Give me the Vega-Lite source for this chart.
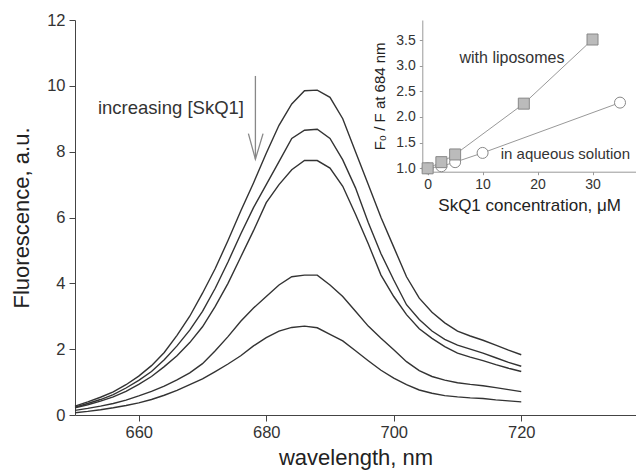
{
  "$schema": "https://vega.github.io/schema/vega-lite/v6.json",
  "width": 561,
  "height": 395,
  "autosize": "none",
  "padding": {"left": 75, "top": 20, "right": 0, "bottom": 59},
  "background": "white",
  "config": {
    "view": {"stroke": null},
    "font": "Liberation Sans",
    "axis": {"grid": false, "labelColor": "#333", "titleColor": "#222", "titleFontWeight": "normal", "labelFont": "Liberation Sans", "titleFont": "Liberation Sans"}
  },
  "datasets": {
    "spectra": [
      {"curve":1,"w":650,"v":0.27},{"curve":1,"w":652,"v":0.40},{"curve":1,"w":654,"v":0.54},{"curve":1,"w":656,"v":0.70},{"curve":1,"w":658,"v":0.92},{"curve":1,"w":660,"v":1.18},{"curve":1,"w":662,"v":1.50},{"curve":1,"w":664,"v":1.90},{"curve":1,"w":666,"v":2.42},{"curve":1,"w":668,"v":3.0},{"curve":1,"w":670,"v":3.7},{"curve":1,"w":672,"v":4.45},{"curve":1,"w":674,"v":5.3},{"curve":1,"w":676,"v":6.2},{"curve":1,"w":678,"v":7.05},{"curve":1,"w":680,"v":7.95},{"curve":1,"w":682,"v":8.8},{"curve":1,"w":684,"v":9.45},{"curve":1,"w":686,"v":9.85},{"curve":1,"w":688,"v":9.87},{"curve":1,"w":690,"v":9.65},{"curve":1,"w":692,"v":9.0},{"curve":1,"w":694,"v":8.0},{"curve":1,"w":696,"v":7.0},{"curve":1,"w":698,"v":6.0},{"curve":1,"w":700,"v":5.1},{"curve":1,"w":702,"v":4.2},{"curve":1,"w":704,"v":3.55},{"curve":1,"w":706,"v":3.12},{"curve":1,"w":708,"v":2.8},{"curve":1,"w":710,"v":2.55},{"curve":1,"w":712,"v":2.4},{"curve":1,"w":714,"v":2.27},{"curve":1,"w":716,"v":2.12},{"curve":1,"w":718,"v":1.97},{"curve":1,"w":720,"v":1.83},
      {"curve":2,"w":650,"v":0.24},{"curve":2,"w":652,"v":0.35},{"curve":2,"w":654,"v":0.47},{"curve":2,"w":656,"v":0.62},{"curve":2,"w":658,"v":0.82},{"curve":2,"w":660,"v":1.05},{"curve":2,"w":662,"v":1.32},{"curve":2,"w":664,"v":1.68},{"curve":2,"w":666,"v":2.1},{"curve":2,"w":668,"v":2.58},{"curve":2,"w":670,"v":3.15},{"curve":2,"w":672,"v":3.85},{"curve":2,"w":674,"v":4.65},{"curve":2,"w":676,"v":5.5},{"curve":2,"w":678,"v":6.3},{"curve":2,"w":680,"v":7.0},{"curve":2,"w":682,"v":7.7},{"curve":2,"w":684,"v":8.4},{"curve":2,"w":686,"v":8.65},{"curve":2,"w":688,"v":8.68},{"curve":2,"w":690,"v":8.4},{"curve":2,"w":692,"v":7.75},{"curve":2,"w":694,"v":6.9},{"curve":2,"w":696,"v":5.85},{"curve":2,"w":698,"v":4.9},{"curve":2,"w":700,"v":4.1},{"curve":2,"w":702,"v":3.35},{"curve":2,"w":704,"v":2.9},{"curve":2,"w":706,"v":2.55},{"curve":2,"w":708,"v":2.3},{"curve":2,"w":710,"v":2.12},{"curve":2,"w":712,"v":2.0},{"curve":2,"w":714,"v":1.88},{"curve":2,"w":716,"v":1.74},{"curve":2,"w":718,"v":1.6},{"curve":2,"w":720,"v":1.48},
      {"curve":3,"w":650,"v":0.22},{"curve":3,"w":652,"v":0.31},{"curve":3,"w":654,"v":0.42},{"curve":3,"w":656,"v":0.55},{"curve":3,"w":658,"v":0.72},{"curve":3,"w":660,"v":0.93},{"curve":3,"w":662,"v":1.17},{"curve":3,"w":664,"v":1.47},{"curve":3,"w":666,"v":1.8},{"curve":3,"w":668,"v":2.2},{"curve":3,"w":670,"v":2.68},{"curve":3,"w":672,"v":3.3},{"curve":3,"w":674,"v":4.0},{"curve":3,"w":676,"v":4.8},{"curve":3,"w":678,"v":5.6},{"curve":3,"w":680,"v":6.45},{"curve":3,"w":682,"v":7.0},{"curve":3,"w":684,"v":7.45},{"curve":3,"w":686,"v":7.73},{"curve":3,"w":688,"v":7.73},{"curve":3,"w":690,"v":7.5},{"curve":3,"w":692,"v":6.95},{"curve":3,"w":694,"v":6.1},{"curve":3,"w":696,"v":5.2},{"curve":3,"w":698,"v":4.25},{"curve":3,"w":700,"v":3.6},{"curve":3,"w":702,"v":3.05},{"curve":3,"w":704,"v":2.62},{"curve":3,"w":706,"v":2.33},{"curve":3,"w":708,"v":2.08},{"curve":3,"w":710,"v":1.88},{"curve":3,"w":712,"v":1.76},{"curve":3,"w":714,"v":1.65},{"curve":3,"w":716,"v":1.53},{"curve":3,"w":718,"v":1.42},{"curve":3,"w":720,"v":1.32},
      {"curve":4,"w":650,"v":0.14},{"curve":4,"w":652,"v":0.2},{"curve":4,"w":654,"v":0.27},{"curve":4,"w":656,"v":0.35},{"curve":4,"w":658,"v":0.45},{"curve":4,"w":660,"v":0.58},{"curve":4,"w":662,"v":0.72},{"curve":4,"w":664,"v":0.88},{"curve":4,"w":666,"v":1.07},{"curve":4,"w":668,"v":1.28},{"curve":4,"w":670,"v":1.56},{"curve":4,"w":672,"v":1.95},{"curve":4,"w":674,"v":2.38},{"curve":4,"w":676,"v":2.85},{"curve":4,"w":678,"v":3.25},{"curve":4,"w":680,"v":3.6},{"curve":4,"w":682,"v":3.95},{"curve":4,"w":684,"v":4.2},{"curve":4,"w":686,"v":4.25},{"curve":4,"w":688,"v":4.25},{"curve":4,"w":690,"v":3.95},{"curve":4,"w":692,"v":3.6},{"curve":4,"w":694,"v":3.15},{"curve":4,"w":696,"v":2.7},{"curve":4,"w":698,"v":2.33},{"curve":4,"w":700,"v":1.98},{"curve":4,"w":702,"v":1.62},{"curve":4,"w":704,"v":1.35},{"curve":4,"w":706,"v":1.17},{"curve":4,"w":708,"v":1.06},{"curve":4,"w":710,"v":0.98},{"curve":4,"w":712,"v":0.93},{"curve":4,"w":714,"v":0.89},{"curve":4,"w":716,"v":0.83},{"curve":4,"w":718,"v":0.77},{"curve":4,"w":720,"v":0.71},
      {"curve":5,"w":650,"v":0.07},{"curve":5,"w":652,"v":0.11},{"curve":5,"w":654,"v":0.16},{"curve":5,"w":656,"v":0.22},{"curve":5,"w":658,"v":0.29},{"curve":5,"w":660,"v":0.37},{"curve":5,"w":662,"v":0.47},{"curve":5,"w":664,"v":0.6},{"curve":5,"w":666,"v":0.75},{"curve":5,"w":668,"v":0.92},{"curve":5,"w":670,"v":1.1},{"curve":5,"w":672,"v":1.32},{"curve":5,"w":674,"v":1.55},{"curve":5,"w":676,"v":1.8},{"curve":5,"w":678,"v":2.1},{"curve":5,"w":680,"v":2.35},{"curve":5,"w":682,"v":2.55},{"curve":5,"w":684,"v":2.66},{"curve":5,"w":686,"v":2.70},{"curve":5,"w":688,"v":2.65},{"curve":5,"w":690,"v":2.45},{"curve":5,"w":692,"v":2.25},{"curve":5,"w":694,"v":1.95},{"curve":5,"w":696,"v":1.65},{"curve":5,"w":698,"v":1.36},{"curve":5,"w":700,"v":1.12},{"curve":5,"w":702,"v":0.92},{"curve":5,"w":704,"v":0.76},{"curve":5,"w":706,"v":0.66},{"curve":5,"w":708,"v":0.59},{"curve":5,"w":710,"v":0.55},{"curve":5,"w":712,"v":0.52},{"curve":5,"w":714,"v":0.5},{"curve":5,"w":716,"v":0.46},{"curve":5,"w":718,"v":0.43},{"curve":5,"w":720,"v":0.40}
    ],
    "arrow": [
      {"seg":"shaft","o":0,"w":678.3,"v":10.3},
      {"seg":"shaft","o":1,"w":678.3,"v":7.77},
      {"seg":"head","o":0,"w":677.2,"v":8.55},
      {"seg":"head","o":1,"w":678.3,"v":7.77},
      {"seg":"head","o":2,"w":679.5,"v":8.55}
    ],
    "mainLabels": [
      {"w":653.6,"v":9.33,"label":"increasing [SkQ1]"}
    ],
    "quench": [
      {"series":"liposomes","c":0,"r":1.0},
      {"series":"liposomes","c":2.5,"r":1.12},
      {"series":"liposomes","c":5,"r":1.27},
      {"series":"liposomes","c":17.5,"r":2.26},
      {"series":"liposomes","c":30,"r":3.51},
      {"series":"aqueous","c":0,"r":1.0},
      {"series":"aqueous","c":2.5,"r":1.04},
      {"series":"aqueous","c":5,"r":1.12},
      {"series":"aqueous","c":10,"r":1.3},
      {"series":"aqueous","c":35,"r":2.28}
    ],
    "insetLabels": [
      {"c":5.8,"r":3.15,"label":"with liposomes","fs":16},
      {"c":13.3,"r":1.27,"label":"in aqueous solution","fs":15}
    ]
  },
  "layer": [
    {
      "encoding": {
        "x": {
          "field": "w", "type": "quantitative",
          "scale": {"domain": [650, 738], "nice": false, "zero": false},
          "axis": {"values": [660, 680, 700, 720], "title": "wavelength, nm", "titleFontSize": 22, "labelFontSize": 16.5, "tickSize": 6, "domainColor": "#444", "tickColor": "#444", "labelPadding": 3, "titlePadding": 7, "orient": "bottom"}
        },
        "y": {
          "field": "v", "type": "quantitative",
          "scale": {"domain": [0, 12], "nice": false},
          "axis": {"values": [0, 2, 4, 6, 8, 10, 12], "title": "Fluorescence, a.u.", "titleFontSize": 22, "labelFontSize": 16.5, "tickSize": 6, "domainColor": "#444", "tickColor": "#444", "labelPadding": 4, "titlePadding": 13, "orient": "left"}
        }
      },
      "layer": [
        {
          "data": {"name": "spectra"},
          "mark": {"type": "line", "color": "#333", "strokeWidth": 1.4},
          "encoding": {"detail": {"field": "curve", "type": "nominal"}}
        },
        {
          "data": {"name": "arrow"},
          "mark": {"type": "line", "color": "#888", "strokeWidth": 1.3},
          "encoding": {"detail": {"field": "seg", "type": "nominal"}, "order": {"field": "o", "type": "quantitative"}}
        },
        {
          "data": {"name": "mainLabels"},
          "mark": {"type": "text", "align": "left", "baseline": "middle", "fontSize": 18.5, "color": "#333"},
          "encoding": {"text": {"field": "label", "type": "nominal"}}
        },
        {
          "data": {"values": [{"v": 12}]},
          "mark": {"type": "rule", "color": "#888", "strokeWidth": 1.2},
          "encoding": {"x": {"datum": 650}, "x2": {"datum": 738}}
        }
      ]
    },
    {
      "encoding": {
        "x": {
          "field": "c", "type": "quantitative",
          "scale": {"domain": [-0.97, 37.91], "range": [347.3, 561], "nice": false, "zero": false},
          "axis": {"orient": "bottom", "offset": -243.3, "values": [0, 10, 20, 30], "title": "SkQ1 concentration, μM", "titleFontSize": 17, "labelFontSize": 14, "tickSize": 3, "domainColor": "#999", "tickColor": "#999", "labelPadding": 3, "titlePadding": 6}
        },
        "y": {
          "field": "r", "type": "quantitative",
          "scale": {"domain": [0.934, 3.89], "range": [151.7, 0], "nice": false, "zero": false},
          "axis": {"orient": "left", "offset": -347.3, "values": [1, 1.5, 2, 2.5, 3, 3.5], "format": ".1f", "title": "F₀ / F at 684 nm", "titleFontSize": 15, "labelFontSize": 14, "tickSize": 3, "domainColor": "#999", "tickColor": "#999", "labelPadding": 4, "titlePadding": 8}
        }
      },
      "layer": [
        {
          "data": {"name": "quench"},
          "mark": {"type": "line", "color": "#999", "strokeWidth": 1},
          "encoding": {"detail": {"field": "series", "type": "nominal"}}
        },
        {
          "data": {"name": "quench"},
          "transform": [{"filter": "datum.series === 'aqueous'"}],
          "mark": {"type": "point", "shape": "circle", "filled": true, "fill": "white", "stroke": "#888", "strokeWidth": 1, "size": 121, "opacity": 1}
        },
        {
          "data": {"name": "quench"},
          "transform": [{"filter": "datum.series === 'liposomes'"}],
          "mark": {"type": "point", "shape": "square", "filled": true, "fill": "#bbb", "stroke": "#888", "strokeWidth": 1, "size": 121, "opacity": 1}
        },
        {
          "data": {"name": "insetLabels"},
          "mark": {"type": "text", "align": "left", "baseline": "middle", "color": "#333"},
          "encoding": {"text": {"field": "label", "type": "nominal"}, "size": {"field": "fs", "type": "quantitative", "scale": null}}
        }
      ]
    }
  ],
  "resolve": {"scale": {"x": "independent", "y": "independent"}}
}
